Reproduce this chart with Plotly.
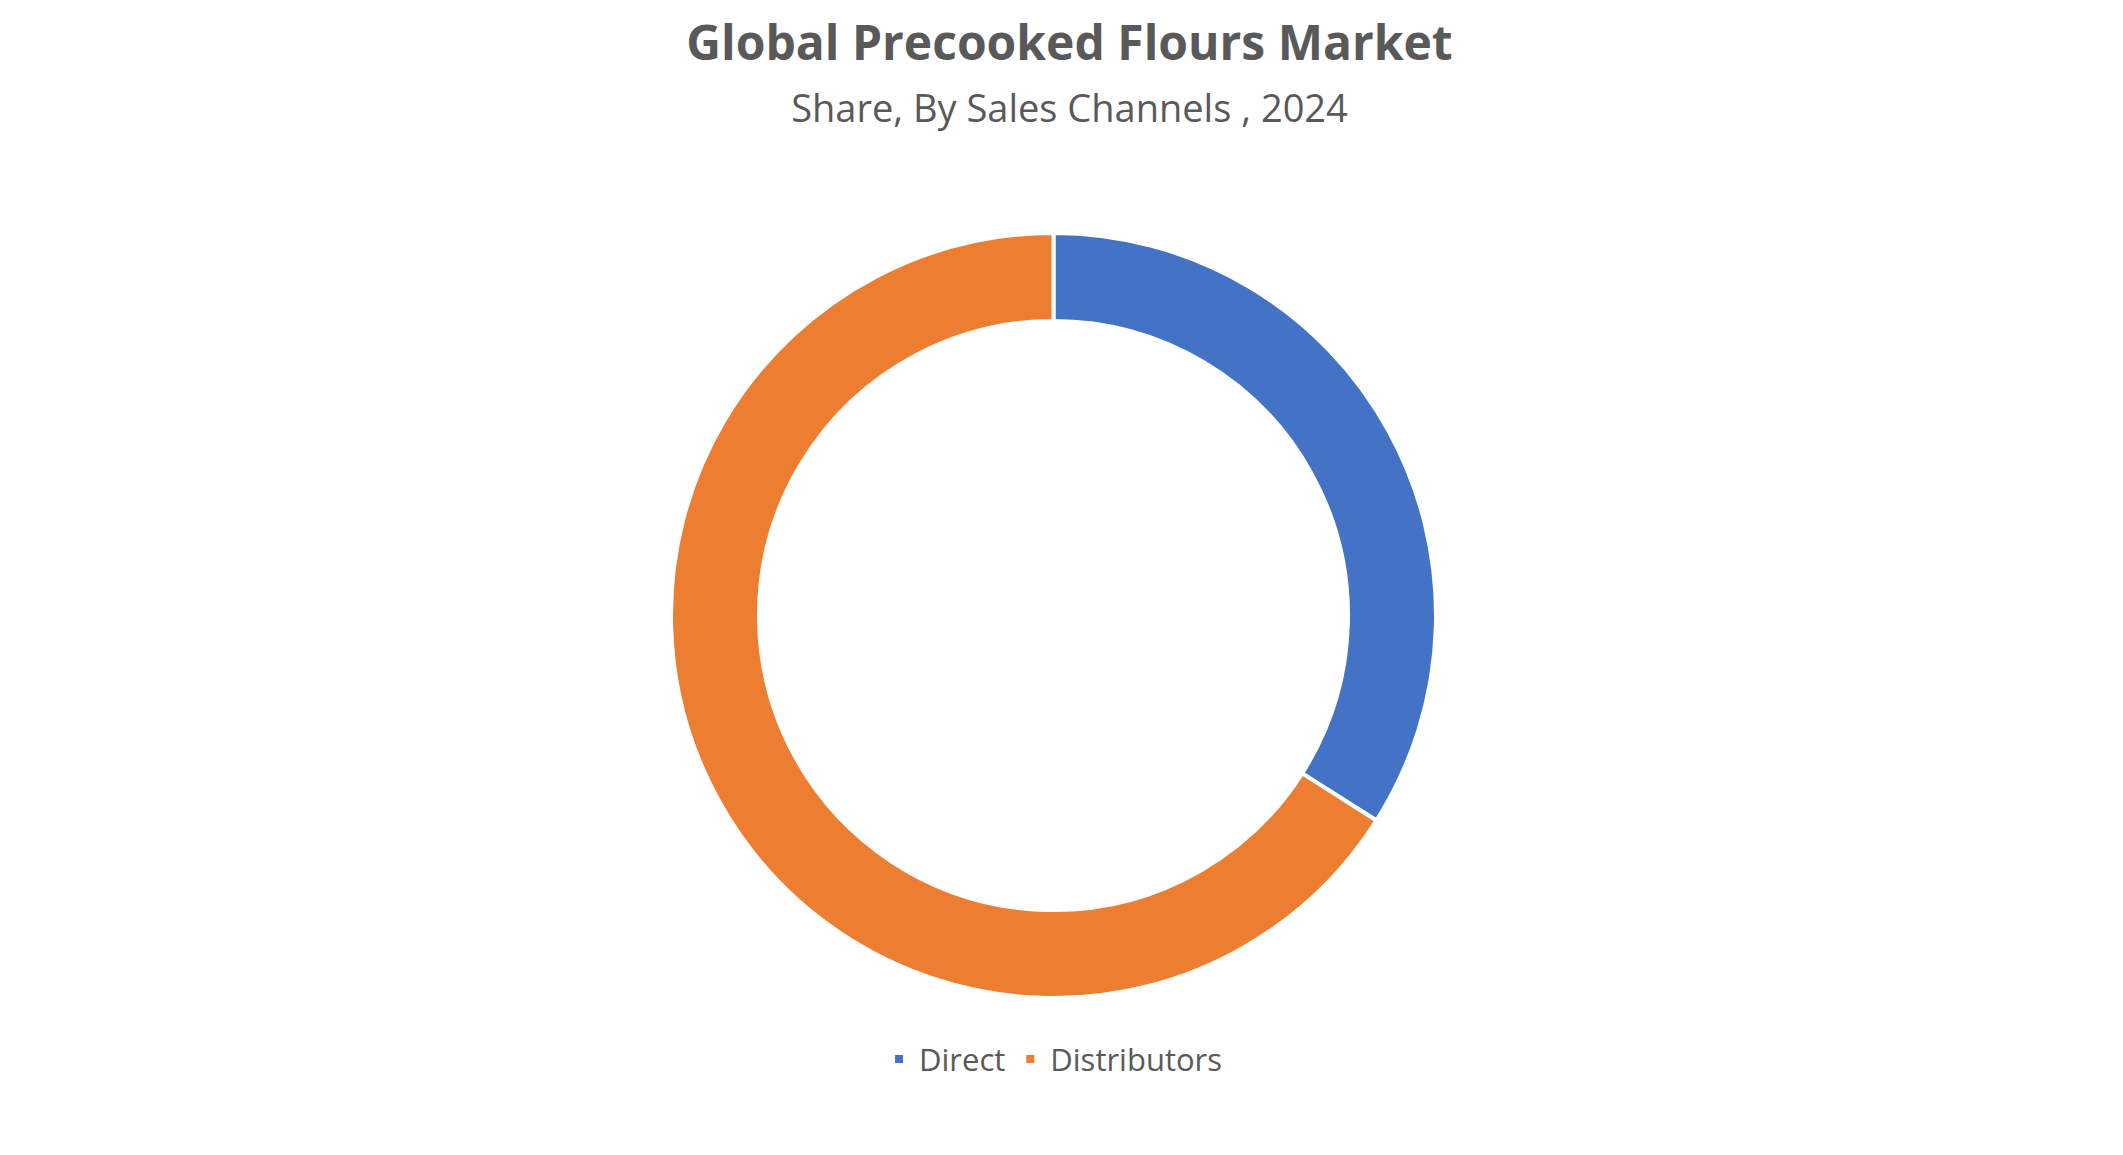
import plotly.graph_objects as go

# ---- data ----
channels = ["Direct", "Distributors"]
shares = [34, 66]
colors = ["#4472C4", "#ED7D31"]

fig = go.Figure(go.Pie(
    labels=channels,
    values=shares,
    hole=0.77,
    sort=False,
    direction="clockwise",
    rotation=0,
    marker=dict(colors=colors, line=dict(color="white", width=4)),
    textinfo="none",
    hoverinfo="label+percent",
))

fig.update_layout(
    width=2123, height=1155,
    paper_bgcolor="white",
    font=dict(family="Open Sans", color="#595959"),
    title=dict(
        text="<b>Global Precooked Flours Market</b><br>"
             "<span style='font-size:38px'>Share, By Sales Channels , 2024</span>",
        x=0.5, xanchor="center", y=0.955, yanchor="top",
        font=dict(size=48, color="#595959"),
    ),
    margin=dict(l=4, r=36, t=225, b=165),
    legend=dict(
        orientation="h", x=0.5, xanchor="center", y=-0.045, yanchor="top",
        font=dict(size=31, color="#595959"),
        itemwidth=30,
    ),
)

fig.write_html("out.html")
